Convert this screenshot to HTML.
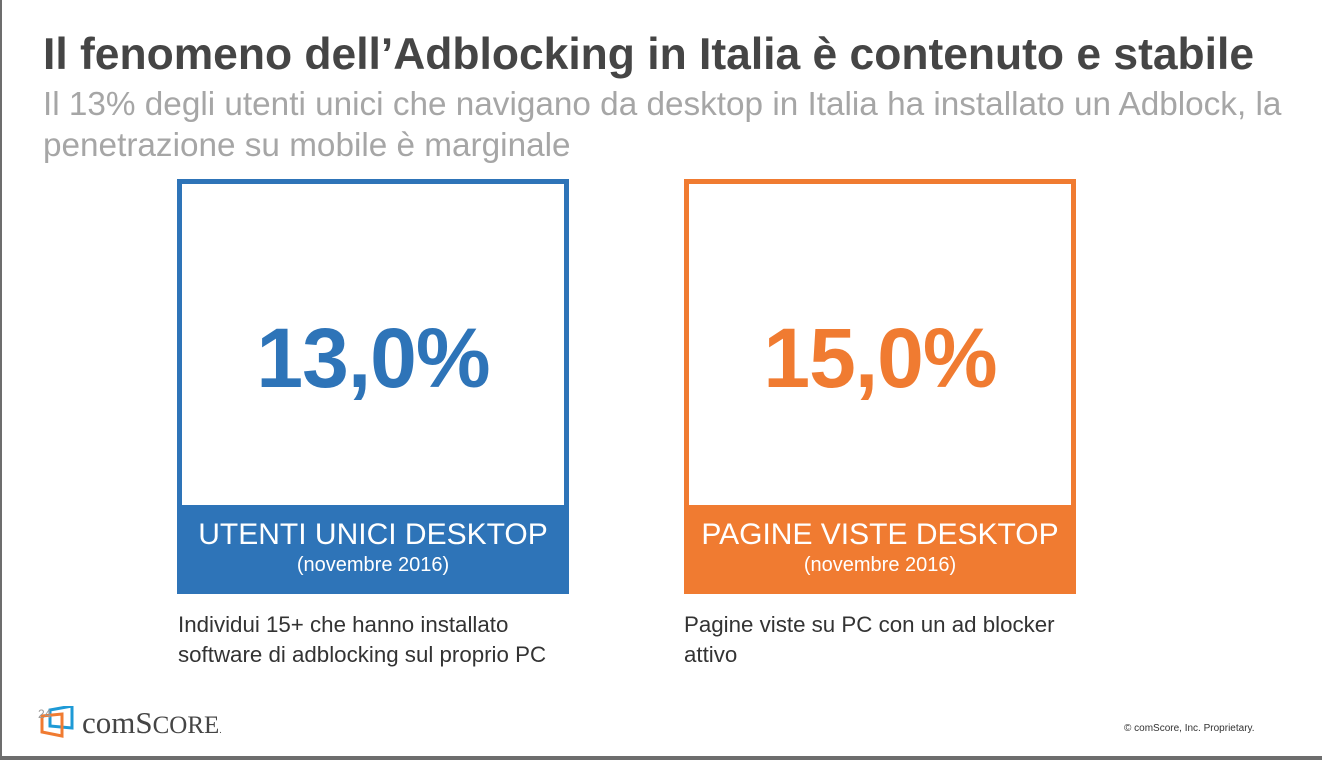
<!DOCTYPE html>
<html><head><meta charset="utf-8">
<style>
body{margin:0;width:1322px;height:760px;overflow:hidden;background:#fff;font-family:"Liberation Sans",Arial,sans-serif;position:relative}
.frame-l{position:absolute;left:0;top:0;width:2px;height:760px;background:#6d6d6d}
.frame-b{position:absolute;left:0;top:756px;width:1322px;height:4px;background:#6d6d6d}
h1{position:absolute;left:43px;top:30px;margin:0;font-size:44.4px;font-weight:bold;color:#454545;white-space:nowrap}
.sub{position:absolute;left:43px;top:84px;margin:0;font-size:33.3px;line-height:41px;color:#a6a6a6;white-space:nowrap}
.box{position:absolute;top:179px;width:392px;height:415px;box-sizing:border-box;border:5px solid;border-bottom:none}
.box .val{position:absolute;left:0;right:0;top:126px;text-align:center;font-size:84px;font-weight:bold;letter-spacing:-1px}
.box .band{position:absolute;left:-5px;right:-5px;bottom:0;height:89px;color:#fff;text-align:center}
.band .t{font-size:30px;margin-top:13px;line-height:34px}
.band .s{font-size:20px;line-height:26px}
.desc{position:absolute;top:610px;font-size:22.3px;line-height:30px;color:#333}
</style></head><body>
<div class="frame-l"></div>
<div class="frame-b"></div>
<h1>Il fenomeno dell’Adblocking in Italia è contenuto e stabile</h1>
<p class="sub">Il 13% degli utenti unici che navigano da desktop in Italia ha installato un Adblock, la<br>penetrazione su mobile è marginale</p>

<div class="box" style="left:177px;border-color:#2e74b8">
  <div class="val" style="color:#2e74b8">13,0%</div>
  <div class="band" style="background:#2e74b8">
    <div class="t">UTENTI UNICI DESKTOP</div><div class="s">(novembre 2016)</div>
  </div>
</div>
<div class="desc" style="left:178px">Individui 15+ che hanno installato<br>software di adblocking sul proprio PC</div>

<div class="box" style="left:684px;border-color:#f07b31">
  <div class="val" style="color:#f07b31">15,0%</div>
  <div class="band" style="background:#f07b31">
    <div class="t">PAGINE VISTE DESKTOP</div><div class="s">(novembre 2016)</div>
  </div>
</div>
<div class="desc" style="left:684px">Pagine viste su PC con un ad blocker<br>attivo</div>

<svg style="position:absolute;left:36px;top:706px" width="220" height="34">
  <polygon points="14,4 36,0 36,22 14,20" fill="none" stroke="#1e9ad6" stroke-width="3"/>
  <polygon points="6,10 26,8 26,30 6,26" fill="none" stroke="#f07b31" stroke-width="3"/>
  <text x="2" y="12" font-size="12" fill="#999" font-family="Liberation Sans">24</text>
  <text x="46" y="27" font-size="31" fill="#454545" font-family="Liberation Serif">comS<tspan font-size="25">CORE</tspan><tspan font-size="9">.</tspan></text>
</svg>
<div style="position:absolute;left:1124px;top:723px;font-size:10px;color:#333">© comScore, Inc. Proprietary.</div>
</body></html>
